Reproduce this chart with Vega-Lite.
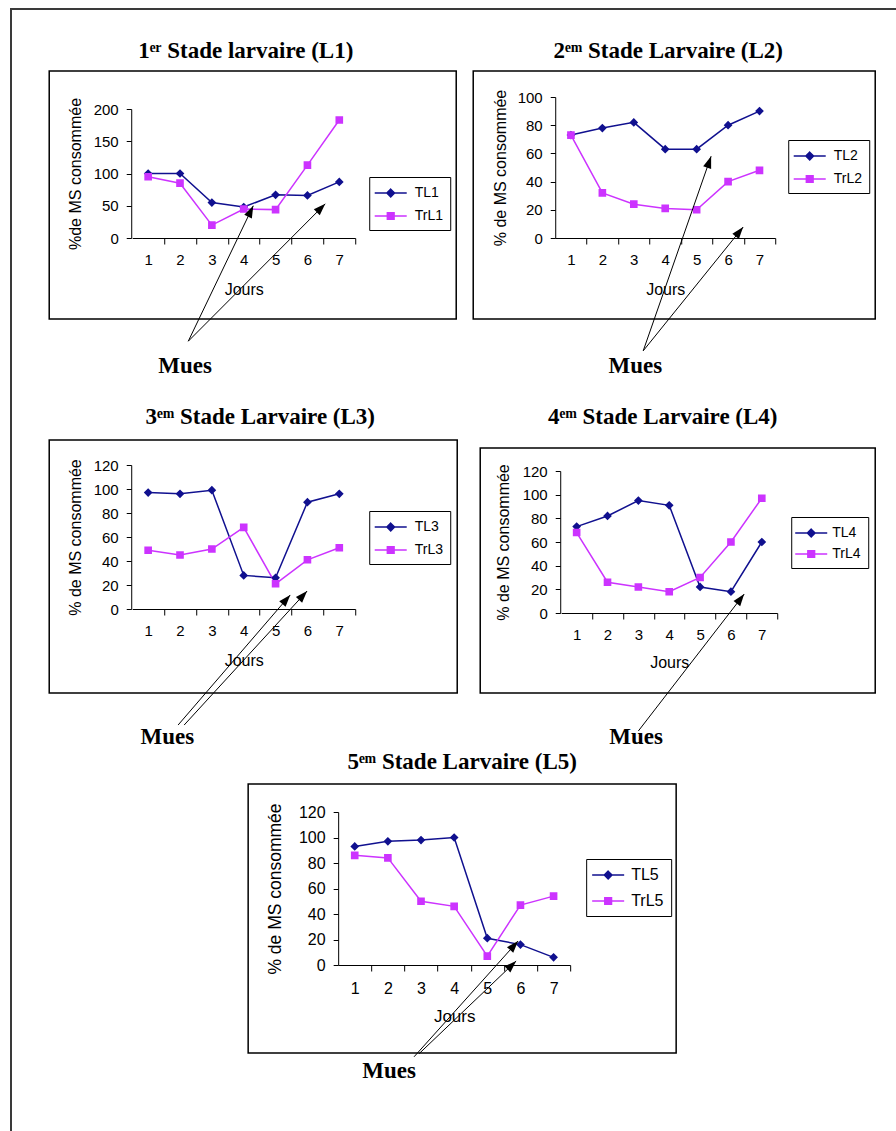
{
  "$schema": "https://vega.github.io/schema/vega-lite/v6.json",
  "padding": {"left": 10, "top": 8, "right": 0, "bottom": 0},
  "config": {
    "view": {"stroke": null},
    "axis": {"domainColor": "#000", "tickColor": "#000", "labelColor": "#000", "titleColor": "#000", "labelFont": "Liberation Sans", "titleFont": "Liberation Sans", "titleFontWeight": "normal", "grid": false},
    "title": {"font": "Liberation Serif", "fontWeight": "bold", "fontSize": 23, "color": "#000", "anchor": "middle", "frame": "group"},
    "legend": {"labelFont": "Liberation Sans", "labelColor": "#000"}
  },
  "resolve": {"scale": {"color": "independent", "fill": "independent", "stroke": "independent", "shape": "independent"}},
  "concat": [
    {"width": 902, "height": 1135, "view": {"stroke": "#3a3a3a", "strokeWidth": 2}, "data": {"values": []}, "mark": "point", "encoding": {}},
    {"resolve": {"scale": {"color": "independent", "fill": "independent", "stroke": "independent", "shape": "independent"}},
     "concat": [
      {"resolve": {"scale": {"color": "independent", "fill": "independent", "stroke": "independent", "shape": "independent"}},
       "concat": [
        {"resolve": {"scale": {"color": "independent", "fill": "independent", "stroke": "independent", "shape": "independent"}},
         "concat": [
          {
            "width": 407, "height": 248,
            "view": {"stroke": "black", "strokeWidth": 1.5},
            "title": {"text": "1ᵉʳ Stade larvaire (L1)", "dx": -7, "offset": 8},
            "data": {"values": [
              {"jour": 1, "serie": "TL1", "pct": 100}, {"jour": 2, "serie": "TL1", "pct": 100}, {"jour": 3, "serie": "TL1", "pct": 55}, {"jour": 4, "serie": "TL1", "pct": 48}, {"jour": 5, "serie": "TL1", "pct": 67}, {"jour": 6, "serie": "TL1", "pct": 66}, {"jour": 7, "serie": "TL1", "pct": 87},
              {"jour": 1, "serie": "TrL1", "pct": 95}, {"jour": 2, "serie": "TrL1", "pct": 85}, {"jour": 3, "serie": "TrL1", "pct": 20}, {"jour": 4, "serie": "TrL1", "pct": 45}, {"jour": 5, "serie": "TrL1", "pct": 44}, {"jour": 6, "serie": "TrL1", "pct": 113}, {"jour": 7, "serie": "TrL1", "pct": 183}
            ]},
            "layer": [
              {"transform": [{"filter": "datum.serie === 'TL1'"}],
               "mark": {"type": "line", "strokeWidth": 1.5, "color": "#10108f"},
               "encoding": {
                 "x": {"field": "jour", "type": "quantitative", "scale": {"domain": [0.5, 7.5], "range": [83, 306], "nice": false, "zero": false},
                   "axis": {"orient": "bottom", "offset": -81, "values": [1, 2, 3, 4, 5, 6, 7], "format": "d", "tickOffset": 15.93, "labelOffset": -15.93, "tickSize": 6, "labelPadding": 8, "labelFontSize": 15, "labelOverlap": false, "labelFlush": false, "title": "Jours", "titleFontSize": 16, "titlePadding": 14}},
                 "y": {"field": "pct", "type": "quantitative", "scale": {"domain": [0, 200], "range": [167, 38], "nice": false},
                   "axis": {"orient": "left", "offset": -82, "values": [0, 50, 100, 150, 200], "tickSize": 5, "labelPadding": 8, "labelFontSize": 15, "title": "%de MS consommée", "titleFontSize": 16, "titlePadding": 10}}
               }},
              {"transform": [{"filter": "datum.serie === 'TrL1'"}],
               "mark": {"type": "line", "strokeWidth": 1.5, "color": "#cc33ff"},
               "encoding": {"x": {"field": "jour", "type": "quantitative"}, "y": {"field": "pct", "type": "quantitative"}}},
              {"mark": {"type": "point", "filled": true, "size": 330, "opacity": 1},
               "encoding": {
                 "x": {"field": "jour", "type": "quantitative"},
                 "y": {"field": "pct", "type": "quantitative"},
                 "strokeWidth": {"value": 0},
                 "fill": {"field": "serie", "type": "nominal", "scale": {"domain": ["TL1", "TrL1"], "range": ["#10108f", "#cc33ff"]},
                   "legend": {"orient": "none", "legendX": 320, "legendY": 106, "title": null, "padding": 7, "strokeColor": "black", "labelFontSize": 14, "symbolSize": 256, "rowPadding": 7, "labelOffset": 15, "symbolOffset": 5.5, "symbolStrokeWidth": 1.5}},
                 "stroke": {"field": "serie", "type": "nominal", "scale": {"domain": ["TL1", "TrL1"], "range": ["#10108f", "#cc33ff"]},
                   "legend": {"orient": "none", "legendX": 320, "legendY": 106, "title": null, "padding": 7, "strokeColor": "black", "labelFontSize": 14, "symbolSize": 256, "rowPadding": 7, "labelOffset": 15, "symbolOffset": 5.5, "symbolStrokeWidth": 1.5}},
                 "shape": {"field": "serie", "type": "nominal", "scale": {"domain": ["TL1", "TrL1"], "range": ["M-2,0H2M0,-0.48L0.48,0L0,0.48L-0.48,0Z", "M-2,0H2M-0.42,-0.42H0.42V0.42H-0.42Z"]},
                   "legend": {"orient": "none", "legendX": 320, "legendY": 106, "title": null, "padding": 7, "strokeColor": "black", "labelFontSize": 14, "symbolSize": 256, "rowPadding": 7, "labelOffset": 15, "symbolOffset": 5.5, "symbolStrokeWidth": 1.5}}
               }},
              {"data": {"values": [{}]}, "mark": {"type": "rule", "color": "black", "strokeWidth": 1},
               "encoding": {"x": {"datum": 2.26}, "y": {"datum": -160}, "x2": {"datum": 4.3}, "y2": {"datum": 50}}},
              {"data": {"values": [{}]}, "mark": {"type": "rule", "color": "black", "strokeWidth": 1},
               "encoding": {"x": {"datum": 2.26}, "y": {"datum": -160}, "x2": {"datum": 6.56}, "y2": {"datum": 53}}},
              {"data": {"values": [{}]}, "mark": {"type": "point", "shape": "M0,0L0.7,2L-0.7,2Z", "filled": true, "color": "black", "opacity": 1, "size": 144, "angle": 25.7},
               "encoding": {"x": {"datum": 4.3}, "y": {"datum": 50}}},
              {"data": {"values": [{}]}, "mark": {"type": "point", "shape": "M0,0L0.7,2L-0.7,2Z", "filled": true, "color": "black", "opacity": 1, "size": 144, "angle": 45},
               "encoding": {"x": {"datum": 6.56}, "y": {"datum": 53}}},
              {"data": {"values": [{}]}, "mark": {"type": "text", "text": "Mues", "font": "Liberation Serif", "fontWeight": "bold", "fontSize": 23, "align": "center", "baseline": "alphabetic", "color": "black"},
               "encoding": {"x": {"datum": 2.16}, "y": {"datum": -209}}}
            ]
          },
          {
            "width": 402, "height": 248,
            "view": {"stroke": "black", "strokeWidth": 1.5},
            "title": {"text": "2ᵉᵐ Stade Larvaire (L2)", "dx": -6, "offset": 8},
            "data": {"values": [
              {"jour": 1, "serie": "TL2", "pct": 73}, {"jour": 2, "serie": "TL2", "pct": 78}, {"jour": 3, "serie": "TL2", "pct": 82}, {"jour": 4, "serie": "TL2", "pct": 63}, {"jour": 5, "serie": "TL2", "pct": 63}, {"jour": 6, "serie": "TL2", "pct": 80}, {"jour": 7, "serie": "TL2", "pct": 90},
              {"jour": 1, "serie": "TrL2", "pct": 73}, {"jour": 2, "serie": "TrL2", "pct": 32}, {"jour": 3, "serie": "TrL2", "pct": 24}, {"jour": 4, "serie": "TrL2", "pct": 21}, {"jour": 5, "serie": "TrL2", "pct": 20}, {"jour": 6, "serie": "TrL2", "pct": 40}, {"jour": 7, "serie": "TrL2", "pct": 48}
            ]},
            "layer": [
              {"transform": [{"filter": "datum.serie === 'TL2'"}],
               "mark": {"type": "line", "strokeWidth": 1.5, "color": "#10108f"},
               "encoding": {
                 "x": {"field": "jour", "type": "quantitative", "scale": {"domain": [0.5, 7.5], "range": [82, 302], "nice": false, "zero": false},
                   "axis": {"orient": "bottom", "offset": -81, "values": [1, 2, 3, 4, 5, 6, 7], "format": "d", "tickOffset": 15.71, "labelOffset": -15.71, "tickSize": 6, "labelPadding": 8, "labelFontSize": 15, "labelOverlap": false, "labelFlush": false, "title": "Jours", "titleFontSize": 16, "titlePadding": 14}},
                 "y": {"field": "pct", "type": "quantitative", "scale": {"domain": [0, 100], "range": [167, 26], "nice": false},
                   "axis": {"orient": "left", "offset": -82, "values": [0, 20, 40, 60, 80, 100], "tickSize": 5, "labelPadding": 8, "labelFontSize": 15, "title": "% de MS consommée", "titleFontSize": 16, "titlePadding": 9}}
               }},
              {"transform": [{"filter": "datum.serie === 'TrL2'"}],
               "mark": {"type": "line", "strokeWidth": 1.5, "color": "#cc33ff"},
               "encoding": {"x": {"field": "jour", "type": "quantitative"}, "y": {"field": "pct", "type": "quantitative"}}},
              {"mark": {"type": "point", "filled": true, "size": 330, "opacity": 1},
               "encoding": {
                 "x": {"field": "jour", "type": "quantitative"},
                 "y": {"field": "pct", "type": "quantitative"},
                 "strokeWidth": {"value": 0},
                 "fill": {"field": "serie", "type": "nominal", "scale": {"domain": ["TL2", "TrL2"], "range": ["#10108f", "#cc33ff"]},
                   "legend": {"orient": "none", "legendX": 315, "legendY": 69, "title": null, "padding": 7, "strokeColor": "black", "labelFontSize": 14, "symbolSize": 256, "rowPadding": 7, "labelOffset": 15, "symbolOffset": 5.5, "symbolStrokeWidth": 1.5}},
                 "stroke": {"field": "serie", "type": "nominal", "scale": {"domain": ["TL2", "TrL2"], "range": ["#10108f", "#cc33ff"]},
                   "legend": {"orient": "none", "legendX": 315, "legendY": 69, "title": null, "padding": 7, "strokeColor": "black", "labelFontSize": 14, "symbolSize": 256, "rowPadding": 7, "labelOffset": 15, "symbolOffset": 5.5, "symbolStrokeWidth": 1.5}},
                 "shape": {"field": "serie", "type": "nominal", "scale": {"domain": ["TL2", "TrL2"], "range": ["M-2,0H2M0,-0.48L0.48,0L0,0.48L-0.48,0Z", "M-2,0H2M-0.42,-0.42H0.42V0.42H-0.42Z"]},
                   "legend": {"orient": "none", "legendX": 315, "legendY": 69, "title": null, "padding": 7, "strokeColor": "black", "labelFontSize": 14, "symbolSize": 256, "rowPadding": 7, "labelOffset": 15, "symbolOffset": 5.5, "symbolStrokeWidth": 1.5}}
               }},
              {"data": {"values": [{}]}, "mark": {"type": "rule", "color": "black", "strokeWidth": 1},
               "encoding": {"x": {"datum": 3.3}, "y": {"datum": -80}, "x2": {"datum": 5.46}, "y2": {"datum": 58}}},
              {"data": {"values": [{}]}, "mark": {"type": "rule", "color": "black", "strokeWidth": 1},
               "encoding": {"x": {"datum": 3.3}, "y": {"datum": -80}, "x2": {"datum": 6.48}, "y2": {"datum": 7.8}}},
              {"data": {"values": [{}]}, "mark": {"type": "point", "shape": "M0,0L0.7,2L-0.7,2Z", "filled": true, "color": "black", "opacity": 1, "size": 144, "angle": 19.2},
               "encoding": {"x": {"datum": 5.46}, "y": {"datum": 58}}},
              {"data": {"values": [{}]}, "mark": {"type": "point", "shape": "M0,0L0.7,2L-0.7,2Z", "filled": true, "color": "black", "opacity": 1, "size": 144, "angle": 38.9},
               "encoding": {"x": {"datum": 6.48}, "y": {"datum": 7.8}}},
              {"data": {"values": [{}]}, "mark": {"type": "text", "text": "Mues", "font": "Liberation Serif", "fontWeight": "bold", "fontSize": 23, "align": "center", "baseline": "alphabetic", "color": "black"},
               "encoding": {"x": {"datum": 3.05}, "y": {"datum": -95.7}}}
            ]
          }
        ], "spacing": 15, "align": "each"},
        {"resolve": {"scale": {"color": "independent", "fill": "independent", "stroke": "independent", "shape": "independent"}},
         "concat": [
          {
            "width": 408, "height": 253,
            "view": {"stroke": "black", "strokeWidth": 1.5},
            "title": {"text": "3ᵉᵐ Stade Larvaire (L3)", "dx": 7, "offset": 11},
            "data": {"values": [
              {"jour": 1, "serie": "TL3", "pct": 97}, {"jour": 2, "serie": "TL3", "pct": 96}, {"jour": 3, "serie": "TL3", "pct": 99}, {"jour": 4, "serie": "TL3", "pct": 28}, {"jour": 5, "serie": "TL3", "pct": 26}, {"jour": 6, "serie": "TL3", "pct": 89}, {"jour": 7, "serie": "TL3", "pct": 96},
              {"jour": 1, "serie": "TrL3", "pct": 49}, {"jour": 2, "serie": "TrL3", "pct": 45}, {"jour": 3, "serie": "TrL3", "pct": 50}, {"jour": 4, "serie": "TrL3", "pct": 68}, {"jour": 5, "serie": "TrL3", "pct": 21}, {"jour": 6, "serie": "TrL3", "pct": 41}, {"jour": 7, "serie": "TrL3", "pct": 51}
            ]},
            "layer": [
              {"transform": [{"filter": "datum.serie === 'TL3'"}],
               "mark": {"type": "line", "strokeWidth": 1.5, "color": "#10108f"},
               "encoding": {
                 "x": {"field": "jour", "type": "quantitative", "scale": {"domain": [0.5, 7.5], "range": [83, 306], "nice": false, "zero": false},
                   "axis": {"orient": "bottom", "offset": -84, "values": [1, 2, 3, 4, 5, 6, 7], "format": "d", "tickOffset": 15.93, "labelOffset": -15.93, "tickSize": 6, "labelPadding": 8, "labelFontSize": 15, "labelOverlap": false, "labelFlush": false, "title": "Jours", "titleFontSize": 16, "titlePadding": 14}},
                 "y": {"field": "pct", "type": "quantitative", "scale": {"domain": [0, 120], "range": [169, 25], "nice": false},
                   "axis": {"orient": "left", "offset": -82, "values": [0, 20, 40, 60, 80, 100, 120], "tickSize": 5, "labelPadding": 8, "labelFontSize": 15, "title": "% de MS consommée", "titleFontSize": 16, "titlePadding": 10}}
               }},
              {"transform": [{"filter": "datum.serie === 'TrL3'"}],
               "mark": {"type": "line", "strokeWidth": 1.5, "color": "#cc33ff"},
               "encoding": {"x": {"field": "jour", "type": "quantitative"}, "y": {"field": "pct", "type": "quantitative"}}},
              {"mark": {"type": "point", "filled": true, "size": 330, "opacity": 1},
               "encoding": {
                 "x": {"field": "jour", "type": "quantitative"},
                 "y": {"field": "pct", "type": "quantitative"},
                 "strokeWidth": {"value": 0},
                 "fill": {"field": "serie", "type": "nominal", "scale": {"domain": ["TL3", "TrL3"], "range": ["#10108f", "#cc33ff"]},
                   "legend": {"orient": "none", "legendX": 320, "legendY": 71, "title": null, "padding": 7, "strokeColor": "black", "labelFontSize": 14, "symbolSize": 256, "rowPadding": 7, "labelOffset": 15, "symbolOffset": 5.5, "symbolStrokeWidth": 1.5}},
                 "stroke": {"field": "serie", "type": "nominal", "scale": {"domain": ["TL3", "TrL3"], "range": ["#10108f", "#cc33ff"]},
                   "legend": {"orient": "none", "legendX": 320, "legendY": 71, "title": null, "padding": 7, "strokeColor": "black", "labelFontSize": 14, "symbolSize": 256, "rowPadding": 7, "labelOffset": 15, "symbolOffset": 5.5, "symbolStrokeWidth": 1.5}},
                 "shape": {"field": "serie", "type": "nominal", "scale": {"domain": ["TL3", "TrL3"], "range": ["M-2,0H2M0,-0.48L0.48,0L0,0.48L-0.48,0Z", "M-2,0H2M-0.42,-0.42H0.42V0.42H-0.42Z"]},
                   "legend": {"orient": "none", "legendX": 320, "legendY": 71, "title": null, "padding": 7, "strokeColor": "black", "labelFontSize": 14, "symbolSize": 256, "rowPadding": 7, "labelOffset": 15, "symbolOffset": 5.5, "symbolStrokeWidth": 1.5}}
               }},
              {"data": {"values": [{}]}, "mark": {"type": "rule", "color": "black", "strokeWidth": 1},
               "encoding": {"x": {"datum": 1.94}, "y": {"datum": -96.7}, "x2": {"datum": 5.46}, "y2": {"datum": 11.7}}},
              {"data": {"values": [{}]}, "mark": {"type": "rule", "color": "black", "strokeWidth": 1},
               "encoding": {"x": {"datum": 2.13}, "y": {"datum": -96.7}, "x2": {"datum": 5.99}, "y2": {"datum": 15}}},
              {"data": {"values": [{}]}, "mark": {"type": "point", "shape": "M0,0L0.7,2L-0.7,2Z", "filled": true, "color": "black", "opacity": 1, "size": 144, "angle": 40.7},
               "encoding": {"x": {"datum": 5.46}, "y": {"datum": 11.7}}},
              {"data": {"values": [{}]}, "mark": {"type": "point", "shape": "M0,0L0.7,2L-0.7,2Z", "filled": true, "color": "black", "opacity": 1, "size": 144, "angle": 42.5},
               "encoding": {"x": {"datum": 5.99}, "y": {"datum": 15}}},
              {"data": {"values": [{}]}, "mark": {"type": "text", "text": "Mues", "font": "Liberation Serif", "fontWeight": "bold", "fontSize": 23, "align": "center", "baseline": "alphabetic", "color": "black"},
               "encoding": {"x": {"datum": 1.6}, "y": {"datum": -112.5}}}
            ]
          },
          {"resolve": {"scale": {"color": "independent", "fill": "independent", "stroke": "independent", "shape": "independent"}},
           "concat": [
            {"width": 1, "height": 1, "data": {"values": []}, "mark": "point", "encoding": {}},
            {
              "width": 395, "height": 245,
              "view": {"stroke": "black", "strokeWidth": 1.5},
              "title": {"text": "4ᵉᵐ Stade Larvaire (L4)", "dx": -15, "offset": 19},
              "data": {"values": [
                {"jour": 1, "serie": "TL4", "pct": 73}, {"jour": 2, "serie": "TL4", "pct": 82}, {"jour": 3, "serie": "TL4", "pct": 95}, {"jour": 4, "serie": "TL4", "pct": 91}, {"jour": 5, "serie": "TL4", "pct": 22}, {"jour": 6, "serie": "TL4", "pct": 18}, {"jour": 7, "serie": "TL4", "pct": 60},
                {"jour": 1, "serie": "TrL4", "pct": 68}, {"jour": 2, "serie": "TrL4", "pct": 26}, {"jour": 3, "serie": "TrL4", "pct": 22}, {"jour": 4, "serie": "TrL4", "pct": 18}, {"jour": 5, "serie": "TrL4", "pct": 30}, {"jour": 6, "serie": "TrL4", "pct": 60}, {"jour": 7, "serie": "TrL4", "pct": 97}
              ]},
              "layer": [
                {"transform": [{"filter": "datum.serie === 'TL4'"}],
                 "mark": {"type": "line", "strokeWidth": 1.5, "color": "#10108f"},
                 "encoding": {
                   "x": {"field": "jour", "type": "quantitative", "scale": {"domain": [0.5, 7.5], "range": [81, 297], "nice": false, "zero": false},
                     "axis": {"orient": "bottom", "offset": -80, "values": [1, 2, 3, 4, 5, 6, 7], "format": "d", "tickOffset": 15.43, "labelOffset": -15.43, "tickSize": 6, "labelPadding": 8, "labelFontSize": 15, "labelOverlap": false, "labelFlush": false, "title": "Jours", "titleFontSize": 16, "titlePadding": 12}},
                   "y": {"field": "pct", "type": "quantitative", "scale": {"domain": [0, 120], "range": [165, 23], "nice": false},
                     "axis": {"orient": "left", "offset": -80, "values": [0, 20, 40, 60, 80, 100, 120], "tickSize": 5, "labelPadding": 8, "labelFontSize": 15, "title": "% de MS consommée", "titleFontSize": 16, "titlePadding": 11}}
                 }},
                {"transform": [{"filter": "datum.serie === 'TrL4'"}],
                 "mark": {"type": "line", "strokeWidth": 1.5, "color": "#cc33ff"},
                 "encoding": {"x": {"field": "jour", "type": "quantitative"}, "y": {"field": "pct", "type": "quantitative"}}},
                {"mark": {"type": "point", "filled": true, "size": 330, "opacity": 1},
                 "encoding": {
                   "x": {"field": "jour", "type": "quantitative"},
                   "y": {"field": "pct", "type": "quantitative"},
                   "strokeWidth": {"value": 0},
                   "fill": {"field": "serie", "type": "nominal", "scale": {"domain": ["TL4", "TrL4"], "range": ["#10108f", "#cc33ff"]},
                     "legend": {"orient": "none", "legendX": 311, "legendY": 69, "title": null, "padding": 7, "strokeColor": "black", "labelFontSize": 14, "symbolSize": 256, "rowPadding": 5, "labelOffset": 12, "symbolOffset": 4, "symbolStrokeWidth": 1.5}},
                   "stroke": {"field": "serie", "type": "nominal", "scale": {"domain": ["TL4", "TrL4"], "range": ["#10108f", "#cc33ff"]},
                     "legend": {"orient": "none", "legendX": 311, "legendY": 69, "title": null, "padding": 7, "strokeColor": "black", "labelFontSize": 14, "symbolSize": 256, "rowPadding": 5, "labelOffset": 12, "symbolOffset": 4, "symbolStrokeWidth": 1.5}},
                   "shape": {"field": "serie", "type": "nominal", "scale": {"domain": ["TL4", "TrL4"], "range": ["M-2,0H2M0,-0.48L0.48,0L0,0.48L-0.48,0Z", "M-2,0H2M-0.42,-0.42H0.42V0.42H-0.42Z"]},
                     "legend": {"orient": "none", "legendX": 311, "legendY": 69, "title": null, "padding": 7, "strokeColor": "black", "labelFontSize": 14, "symbolSize": 256, "rowPadding": 5, "labelOffset": 12, "symbolOffset": 4, "symbolStrokeWidth": 1.5}}
                 }},
                {"data": {"values": [{}]}, "mark": {"type": "rule", "color": "black", "strokeWidth": 1},
                 "encoding": {"x": {"datum": 3.0}, "y": {"datum": -99.7}, "x2": {"datum": 6.43}, "y2": {"datum": 16}}},
                {"data": {"values": [{}]}, "mark": {"type": "point", "shape": "M0,0L0.7,2L-0.7,2Z", "filled": true, "color": "black", "opacity": 1, "size": 144, "angle": 37.7},
                 "encoding": {"x": {"datum": 6.43}, "y": {"datum": 16}}},
                {"data": {"values": [{}]}, "mark": {"type": "text", "text": "Mues", "font": "Liberation Serif", "fontWeight": "bold", "fontSize": 23, "align": "center", "baseline": "alphabetic", "color": "black"},
                 "encoding": {"x": {"datum": 2.93}, "y": {"datum": -110.7}}}
              ]
            }
          ], "columns": 1, "spacing": -36, "align": {"row": "none", "column": "each"}}
        ], "spacing": 21, "align": "each"}
      ], "columns": 1, "spacing": 26, "center": true, "align": {"row": "none", "column": "each"}},
      {
        "width": 428, "height": 269,
        "view": {"stroke": "black", "strokeWidth": 1.5},
        "title": {"text": "5ᵉᵐ Stade Larvaire (L5)", "offset": 10},
        "data": {"values": [
          {"jour": 1, "serie": "TL5", "pct": 93}, {"jour": 2, "serie": "TL5", "pct": 97}, {"jour": 3, "serie": "TL5", "pct": 98}, {"jour": 4, "serie": "TL5", "pct": 100}, {"jour": 5, "serie": "TL5", "pct": 21}, {"jour": 6, "serie": "TL5", "pct": 16}, {"jour": 7, "serie": "TL5", "pct": 6},
          {"jour": 1, "serie": "TrL5", "pct": 86}, {"jour": 2, "serie": "TrL5", "pct": 84}, {"jour": 3, "serie": "TrL5", "pct": 50}, {"jour": 4, "serie": "TrL5", "pct": 46}, {"jour": 5, "serie": "TrL5", "pct": 7}, {"jour": 6, "serie": "TrL5", "pct": 47}, {"jour": 7, "serie": "TrL5", "pct": 54}
        ]},
        "layer": [
          {"transform": [{"filter": "datum.serie === 'TL5'"}],
           "mark": {"type": "line", "strokeWidth": 1.5, "color": "#10108f"},
           "encoding": {
             "x": {"field": "jour", "type": "quantitative", "scale": {"domain": [0.5, 7.5], "range": [90, 322], "nice": false, "zero": false},
               "axis": {"orient": "bottom", "offset": -88, "values": [1, 2, 3, 4, 5, 6, 7], "format": "d", "tickOffset": 16.57, "labelOffset": -16.57, "tickSize": 6, "labelPadding": 9, "labelFontSize": 16, "labelOverlap": false, "labelFlush": false, "title": "Jours", "titleFontSize": 17, "titlePadding": 12}},
             "y": {"field": "pct", "type": "quantitative", "scale": {"domain": [0, 120], "range": [181, 28], "nice": false},
               "axis": {"orient": "left", "offset": -90, "values": [0, 20, 40, 60, 80, 100, 120], "tickSize": 5, "labelPadding": 8, "labelFontSize": 16, "title": "% de MS consommée", "titleFontSize": 17.5, "titlePadding": 14}}
           }},
          {"transform": [{"filter": "datum.serie === 'TrL5'"}],
           "mark": {"type": "line", "strokeWidth": 1.5, "color": "#cc33ff"},
           "encoding": {"x": {"field": "jour", "type": "quantitative"}, "y": {"field": "pct", "type": "quantitative"}}},
          {"mark": {"type": "point", "filled": true, "size": 330, "opacity": 1},
           "encoding": {
             "x": {"field": "jour", "type": "quantitative"},
             "y": {"field": "pct", "type": "quantitative"},
             "strokeWidth": {"value": 0},
             "fill": {"field": "serie", "type": "nominal", "scale": {"domain": ["TL5", "TrL5"], "range": ["#10108f", "#cc33ff"]},
               "legend": {"orient": "none", "legendX": 338, "legendY": 75, "title": null, "padding": 7, "strokeColor": "black", "labelFontSize": 16, "symbolSize": 256, "rowPadding": 9, "labelOffset": 14, "symbolOffset": 6, "symbolStrokeWidth": 1.5}},
             "stroke": {"field": "serie", "type": "nominal", "scale": {"domain": ["TL5", "TrL5"], "range": ["#10108f", "#cc33ff"]},
               "legend": {"orient": "none", "legendX": 338, "legendY": 75, "title": null, "padding": 7, "strokeColor": "black", "labelFontSize": 16, "symbolSize": 256, "rowPadding": 9, "labelOffset": 14, "symbolOffset": 6, "symbolStrokeWidth": 1.5}},
             "shape": {"field": "serie", "type": "nominal", "scale": {"domain": ["TL5", "TrL5"], "range": ["M-2,0H2M0,-0.48L0.48,0L0,0.48L-0.48,0Z", "M-2,0H2M-0.42,-0.42H0.42V0.42H-0.42Z"]},
               "legend": {"orient": "none", "legendX": 338, "legendY": 75, "title": null, "padding": 7, "strokeColor": "black", "labelFontSize": 16, "symbolSize": 256, "rowPadding": 9, "labelOffset": 14, "symbolOffset": 6, "symbolStrokeWidth": 1.5}}
           }},
          {"data": {"values": [{}]}, "mark": {"type": "rule", "color": "black", "strokeWidth": 1},
           "encoding": {"x": {"datum": 2.79}, "y": {"datum": -72}, "x2": {"datum": 5.93}, "y2": {"datum": 18.8}}},
          {"data": {"values": [{}]}, "mark": {"type": "rule", "color": "black", "strokeWidth": 1},
           "encoding": {"x": {"datum": 2.94}, "y": {"datum": -69.6}, "x2": {"datum": 5.87}, "y2": {"datum": 3.1}}},
          {"data": {"values": [{}]}, "mark": {"type": "point", "shape": "M0,0L0.7,2L-0.7,2Z", "filled": true, "color": "black", "opacity": 1, "size": 144, "angle": 41.9},
           "encoding": {"x": {"datum": 5.93}, "y": {"datum": 18.8}}},
          {"data": {"values": [{}]}, "mark": {"type": "point", "shape": "M0,0L0.7,2L-0.7,2Z", "filled": true, "color": "black", "opacity": 1, "size": 144, "angle": 46.2},
           "encoding": {"x": {"datum": 5.87}, "y": {"datum": 3.1}}},
          {"data": {"values": [{}]}, "mark": {"type": "text", "text": "Mues", "font": "Liberation Serif", "fontWeight": "bold", "fontSize": 23, "align": "center", "baseline": "alphabetic", "color": "black"},
           "encoding": {"x": {"datum": 2.04}, "y": {"datum": -88.6}}}
        ]
      }
    ], "columns": 1, "spacing": 0, "center": true, "align": {"row": "none", "column": "each"}}
  ],
  "columns": 1, "spacing": -1106, "center": true, "align": {"row": "none", "column": "each"}
}
